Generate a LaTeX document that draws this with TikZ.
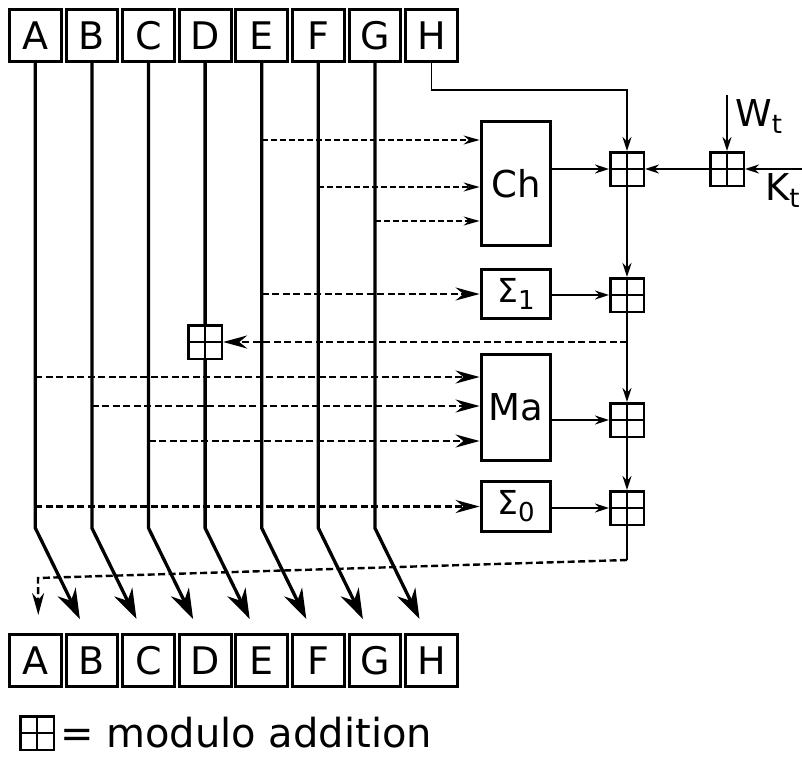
\documentclass[tikz,border=0pt]{standalone}
\usepackage{fontspec}
\setmainfont{DejaVu Sans}
\usetikzlibrary{arrows.meta,calc}

\newcommand\lowsub[1]{{\fontsize{26}{26}\selectfont\raisebox{-7pt}{#1}}}

\tikzset{
  reg/.style={draw, line width=3pt, minimum width=51.8pt, minimum height=52pt,
    inner sep=0pt, font=\fontsize{38}{40}\selectfont},
  fbox/.style={draw, line width=3.3pt, minimum width=69.5pt, inner sep=0pt,
    font=\fontsize{37}{40}\selectfont},
  adder/.style={draw, line width=2.5pt, minimum size=33.5pt, inner sep=0pt,
    path picture={\draw[line width=2.5pt]
      (path picture bounding box.north) -- (path picture bounding box.south)
      (path picture bounding box.west) -- (path picture bounding box.east);}},
  wire/.style={line width=3.3pt},
  feed/.style={line width=1.7pt, -{Stealth[length=14pt,width=9pt]}},
  bigarr/.style={line width=3.3pt, -{Stealth[length=30pt,width=20pt]}},
  dashin/.style={line width=2.7pt, dash pattern=on 7pt off 3.5pt,
    -{Stealth[length=24pt,width=13pt]}},
  dashfeed/.style={line width=1.5pt, dash pattern=on 6pt off 3pt,
    -{Stealth[length=16pt,width=9pt]}},
  lbl/.style={font=\fontsize{37}{40}\selectfont, inner sep=0pt}
}

\begin{document}
\begin{tikzpicture}[x=1pt, y=-1pt]
\useasboundingbox (0,0) rectangle (802,760);
% ---------- registers before and after the round ----------
\foreach \r [count=\i from 0] in {A,B,C,D,E,F,G,H} {
  \node[reg] (old-\r) at ({35.3+56.6*\i},35.5) {\r};
  \node[reg] (new-\r) at ({35.3+56.6*\i},660.5) {\r};
}
% ---------- function boxes ----------
\node[fbox, minimum height=124pt] (Ch) at (516,183.5) {Ch};
\node[fbox, minimum height=49pt, font=\fontsize{33}{36}\selectfont] (S1) at (516,294) {Σ\lowsub{1}};
\node[fbox, minimum height=106pt] (Ma) at (516,407.5) {Ma};
\node[fbox, minimum height=50pt, font=\fontsize{33}{36}\selectfont] (S0) at (516,506.5) {Σ\lowsub{0}};
% ---------- adders ----------
\node[adder] (add1) at (627,169) {};
\node[adder] (addwk) at (727,169) {};
\node[adder] (add2) at (627,295) {};
\node[adder] (add3) at (627,420) {};
\node[adder] (add4) at (627,508) {};
\node[adder] (addD) at (205.1,342) {};
% levels where the wires bend
\coordinate (bend) at (0,528);
\coordinate (hrow) at (0,90);
\coordinate (back) at (0,342);
\coordinate (fb) at (0,560);
% ---------- the shifted wires ----------
\foreach \r/\s in {A/B,B/C,C/D,E/F,F/G,G/H} {
  \draw[bigarr] (old-\r.south) -- (old-\r |- bend) -- ($(new-\s.north)+(-12,-14)$);
}
\draw[wire] (old-D.south) -- (addD.north);
\draw[bigarr] (addD.south) -- (old-D |- bend) -- ($(new-E.north)+(-12,-14)$);
% ---------- inputs of the boxes ----------
\draw[dashfeed] (old-E |- 0,140) -- (Ch.west |- 0,140);
\draw[dashfeed] (old-F |- 0,187) -- (Ch.west |- 0,187);
\draw[dashfeed] (old-G |- 0,221) -- (Ch.west |- 0,221);
\draw[dashin] (old-E |- S1) -- (S1.west);
\draw[dashin] (old-A |- 0,377) -- (Ma.west |- 0,377);
\draw[dashin] (old-B |- 0,406) -- (Ma.west |- 0,406);
\draw[dashin] (old-C |- 0,441) -- (Ma.west |- 0,441);
\draw[dashin] (old-A |- S0) -- (S0.west);
% ---------- the adder chain ----------
\draw[feed] (old-H.south) -- (old-H |- hrow) -- (add1 |- hrow) -- (add1.north);
\draw[feed] (727,95) -- (addwk.north);
\draw[feed] (802,169) -- (addwk.east);
\node[lbl, anchor=west] (wlab) at (735,117) {W\lowsub{t}};
\node[lbl, anchor=west] (klab) at (765,191) {K\lowsub{t}};
\draw[feed] (addwk.west) -- (add1.east);
\draw[feed] (Ch.east |- add1) -- (add1.west);
\draw[feed] (add1.south) -- (add2.north);
\draw[feed] (S1.east |- add2) -- (add2.west);
\draw[feed] (add2.south) -- (add3.north);
\draw[dashin] (add2 |- back) -- (addD.east);
\draw[feed] (Ma.east |- add3) -- (add3.west);
\draw[feed] (add3.south) -- (add4.north);
\draw[feed] (S0.east |- add4) -- (add4.west);
% new A comes back round to the left
\draw[line width=1.7pt] (add4.south) -- (add4 |- fb);
\draw[dashin, line width=2.4pt, -{Stealth[length=22pt,width=12pt]}]
  (add4 |- fb) -- (38,578) -- ($(new-A.north)+(3,-18)$);
% ---------- key ----------
\node[adder] (key) at (37,733) {};
\node[lbl, anchor=west, font=\fontsize{40}{42}\selectfont] (keytext) at ($(key.east)+(5,0)$) {= modulo addition};
\end{tikzpicture}
\end{document}
